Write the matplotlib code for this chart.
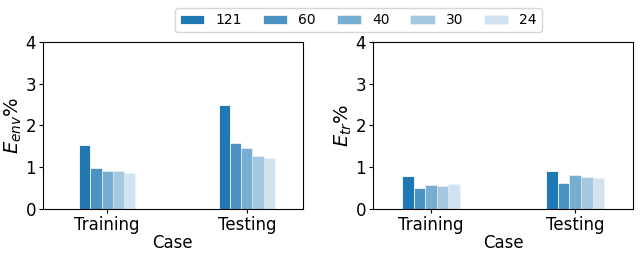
import matplotlib
matplotlib.use("Agg")
import matplotlib.pyplot as plt
import numpy as np

cases = ["Training", "Testing"]
sizes = ["121", "60", "40", "30", "24"]
alphas = [1.0, 0.8, 0.6, 0.4, 0.2]

# E_env % per size, [training, testing]
e_env = [
    [1.52, 2.49],
    [0.97, 1.57],
    [0.92, 1.47],
    [0.90, 1.27],
    [0.86, 1.23],
]
# E_tr % per size, [training, testing]
e_tr = [
    [0.78, 0.92],
    [0.50, 0.61],
    [0.58, 0.82],
    [0.56, 0.76],
    [0.60, 0.74],
]

fig = plt.figure(figsize=(6.4, 2.56), dpi=100)
ax1 = fig.add_axes([0.067, 0.184, 0.406, 0.652])
ax2 = fig.add_axes([0.583, 0.184, 0.406, 0.652])

x = np.arange(len(cases))
w = 0.08

def draw(ax, data, ylabel, xlim):
    handles = []
    for i, vals in enumerate(data):
        off = (i - 2) * w
        b = ax.bar(x + off, vals, width=w, color="#1f77b4", alpha=alphas[i],
                   edgecolor="white", linewidth=0.6, label=sizes[i])
        handles.append(b)
    ax.set_ylim(0, 4)
    ax.set_yticks([0, 1, 2, 3, 4])
    ax.set_xlim(*xlim)
    ax.set_xticks(x)
    ax.set_xticklabels(cases)
    ax.tick_params(labelsize=12, length=3, pad=2)
    ax.set_xlabel("Case", fontsize=12, labelpad=0)
    ax.set_ylabel(ylabel, fontsize=14, labelpad=1)
    return handles

h = draw(ax1, e_env, "$E_{env}$%", (-0.46, 1.40))
draw(ax2, e_tr, "$E_{tr}$%", (-0.40, 1.40))

fig.legend(h, sizes, loc="upper center", ncol=5, fontsize=10,
           bbox_to_anchor=(0.56, 0.995), frameon=True, columnspacing=1.5,
           handlelength=1.75, handleheight=0.6, borderpad=0.35)

fig.savefig("out.png", dpi=100)
